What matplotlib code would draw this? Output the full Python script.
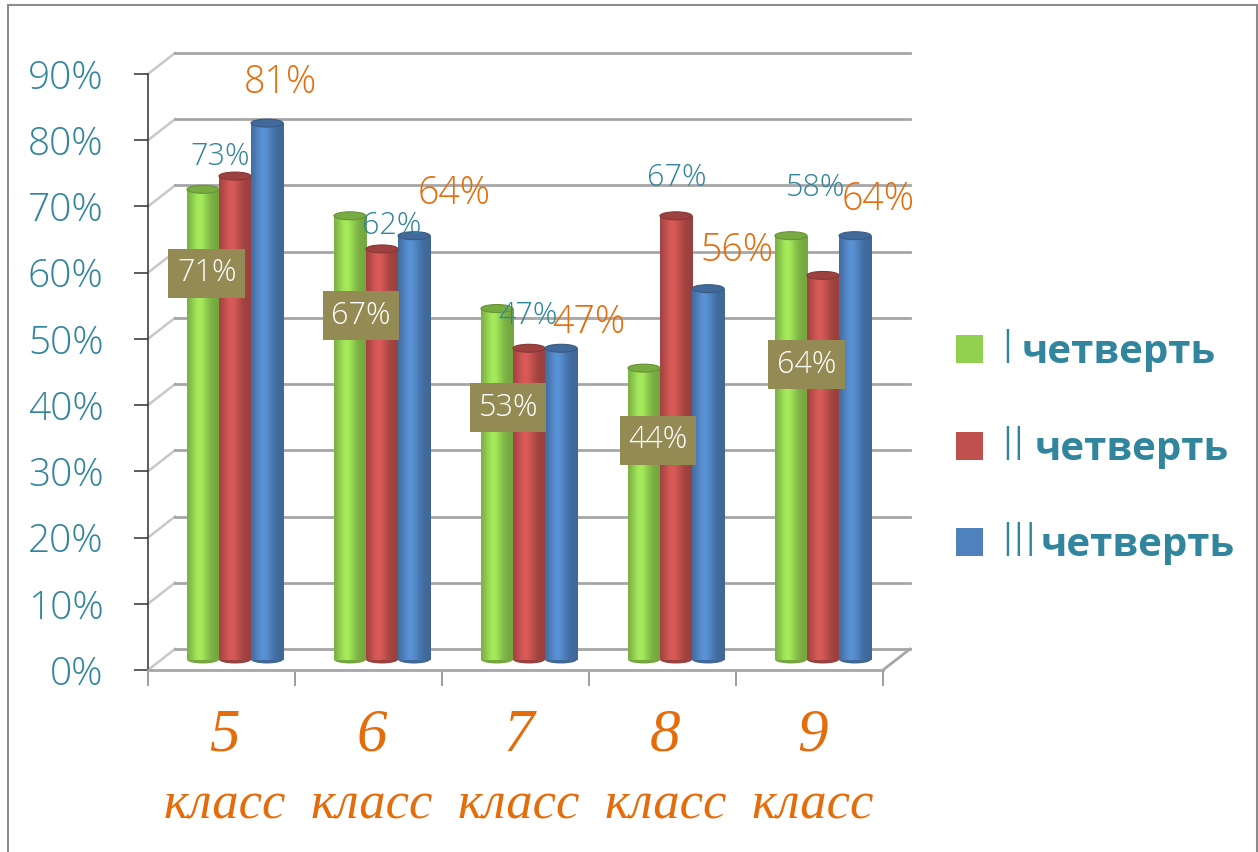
import numpy as np
import matplotlib
matplotlib.use('Agg')
import matplotlib.pyplot as plt
import matplotlib.colors as mcolors
import matplotlib.transforms as mtransforms
from matplotlib.patches import Ellipse, Rectangle

# ---- data ----
classes = ['5', '6', '7', '8', '9']
class_word = 'класс'
q1 = [71, 67, 53, 44, 64]   # I четверть
q2 = [73, 62, 47, 67, 58]   # II четверть
q3 = [81, 64, 47, 56, 64]   # III четверть
numerals = ['I', 'II', 'III']
quarter_word = 'четверть'
yticks = [0, 10, 20, 30, 40, 50, 60, 70, 80, 90]

# label placement (hand placed in the original)
q1_lbl_x = [-0.10, -0.05, -0.05, -0.03, -0.02]
q1_lbl_y = [59.9, 53.5, 39.6, 34.7, 46.1]
q2_lbl_x = [-0.01, 0.16, 0.085, 0.10, 0.04]
q2_lbl_y = [77.5, 67.0, 53.5, 74.3, 72.8]
q3_lbl_x = [0.40, 0.58, 0.50, 0.51, 0.47]
q3_lbl_y = [88.7, 71.9, 52.5, 63.3, 71.0]

GREEN = '#92D050'
RED = '#C0504D'
BLUE = '#4F81BD'
TEAL = '#31859C'
ORANGE = '#E46C0A'
OLIVE = '#948A54'
GRID = '#A6A6A6'

plt.rcParams['font.family'] = ['Open Sans', 'DejaVu Sans']
NUM_W = 300  # light weight for the numbers

W, H = 1258, 852
fig = plt.figure(figsize=(W / 100, H / 100), dpi=100)
ax = fig.add_axes([148 / W, 1 - 670 / H, 735 / W, 596 / H])

# 3d depth of the back wall / floor, in data units
dx, dy = 27 / 147, 21 / 6.622

# back wall grid + left wall diagonals
for v in yticks:
    ax.plot([-0.5, -0.5 + dx], [v, v + dy], color='#C8C8C8', lw=1.8, zorder=1, clip_on=False)
    ax.plot([-0.5 + dx, 4.5 + dx], [v + dy, v + dy], color=GRID, lw=2, zorder=1, clip_on=False)
# floor right edge
ax.plot([4.5, 4.5 + dx], [0, dy], color=GRID, lw=2, zorder=1, clip_on=False)

# bars sit half way into the depth
tr = ax.transData + mtransforms.ScaledTranslation(13.5 / 100, 10.5 / 100, fig.dpi_scale_trans)


def cylinder(xc, h, w, base):
    t = np.linspace(0, 1, 64)
    f = 0.80 + 0.33 * np.exp(-((t - 0.38) / 0.28) ** 2)
    rgb = np.array(mcolors.to_rgb(base))
    cols = np.clip(rgb[None, :] * f[:, None], 0, 1)
    ax.imshow(cols[None, :, :], extent=(xc - w / 2, xc + w / 2, 0, h), aspect='auto',
              transform=tr, interpolation='bilinear', zorder=3)
    ax.add_patch(Ellipse((xc, 0), w, 1.2, facecolor=rgb * 0.8, edgecolor='none',
                         transform=tr, zorder=2.9))
    ax.add_patch(Ellipse((xc, h), w, 1.2, facecolor=rgb * 0.82, edgecolor=rgb * 0.7,
                         lw=0.8, transform=tr, zorder=3.1))


bw = 0.218
x = np.arange(len(classes))
for i in x:
    cylinder(i - bw, q1[i], bw, GREEN)
    cylinder(i, q2[i], bw, RED)
    cylinder(i + bw, q3[i], bw, BLUE)

# data labels
for i in x:
    ax.text(i + q1_lbl_x[i], q1_lbl_y[i], f'{q1[i]}%', ha='center', va='center',
            fontsize=22, fontweight=NUM_W, color='white', zorder=5,
            bbox=dict(boxstyle='square,pad=0.28', facecolor=OLIVE, edgecolor='none'))
    ax.text(i + q2_lbl_x[i], q2_lbl_y[i], f'{q2[i]}%', ha='center', va='center',
            fontsize=22, fontweight=NUM_W, color=TEAL, zorder=5)
    ax.text(i + q3_lbl_x[i], q3_lbl_y[i], f'{q3[i]}%', ha='center', va='center',
            fontsize=27, fontweight=NUM_W, color=ORANGE, zorder=5)

# category labels
for i in x:
    ax.text(i + 0.02, -10.0, classes[i], ha='center', va='center', fontsize=44,
            family='Liberation Serif', style='italic', color=ORANGE)
    ax.text(i + 0.02, -20.4, class_word, ha='center', va='center', fontsize=38,
            family='Liberation Serif', style='italic', color=ORANGE)

ax.set_xlim(-0.5, 4.5)
ax.set_ylim(0, 90)
ax.set_yticks(yticks)
ax.set_yticklabels([f'{v}%' for v in yticks])
ax.set_xticks(np.arange(-0.5, 5, 1))
ax.set_xticklabels([])
ax.tick_params(axis='y', direction='out', length=10, width=1.2, color='#404040',
               pad=22, labelsize=28, labelcolor=TEAL)
ax.tick_params(axis='x', direction='out', length=11.5, width=1.2, color='#8C8C8C')
for lbl in ax.get_yticklabels():
    lbl.set_fontweight(NUM_W)
for s in ['top', 'right']:
    ax.spines[s].set_visible(False)
ax.spines['left'].set_color('#404040')
ax.spines['left'].set_linewidth(1.2)
ax.spines['bottom'].set_color(GRID)
ax.spines['bottom'].set_linewidth(2)
ax.patch.set_alpha(0)

# legend, drawn by hand
leg_cols = [GREEN, RED, BLUE]
leg_y = [349, 446, 542]
word_x = [1022, 1035, 1041]
for k in range(3):
    fig.patches.append(Rectangle((956 / W, 1 - (leg_y[k] + 14) / H), 27 / W, 28 / H,
                                 transform=fig.transFigure, facecolor=leg_cols[k],
                                 edgecolor='none'))
    fig.text(1001 / W, 1 - (leg_y[k] + 14) / H, numerals[k], ha='left', va='baseline',
             fontsize=34, fontweight=NUM_W, color=TEAL)
    fig.text(word_x[k] / W, 1 - (leg_y[k] + 14) / H, quarter_word, ha='left', va='baseline',
             fontsize=29, fontweight='bold', color=TEAL)

# outer frame
fig.patches.append(Rectangle((8 / W, -0.02), 1249 / W, 1.02 - 5 / H, transform=fig.transFigure,
                             facecolor='none', edgecolor='#8C8C8C', lw=1.5))

fig.savefig('out.png', dpi=100, facecolor='white')
